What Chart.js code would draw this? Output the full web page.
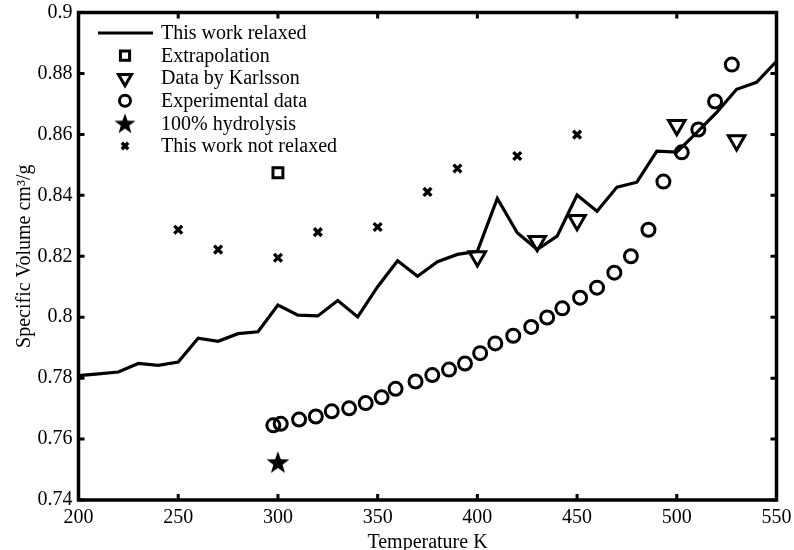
<!DOCTYPE html>
<html>
<head>
<meta charset="utf-8">
<title>Specific volume vs temperature</title>
<script src="https://cdn.jsdelivr.net/npm/chart.js@4.4.1/dist/chart.umd.min.js"></script>
<style>
  html, body { margin: 0; padding: 0; background: #fff; }
  #wrap { width: 794px; height: 550px; }
</style>
</head>
<body>
<div id="wrap"><canvas id="chart" width="794" height="550"></canvas></div>
<script>
// ── Data ──────────────────────────────────────────────────────────
const relaxedTemp = [200, 210, 220, 230, 240, 250, 260, 270, 280, 290, 300, 310,
  320, 330, 340, 350, 360, 370, 380, 390, 400, 410, 420, 430, 440, 450, 460, 470,
  480, 490, 500, 510, 520, 530, 540, 550];
const relaxedVolume = [0.7808, 0.7814, 0.7820, 0.7848, 0.7842, 0.7853, 0.7931, 0.7921,
  0.7946, 0.7952, 0.8040, 0.8007, 0.8004, 0.8055, 0.8001, 0.8100, 0.8185, 0.8134,
  0.8182, 0.8206, 0.8216, 0.8390, 0.8277, 0.8222, 0.8266, 0.8401, 0.8348, 0.8427,
  0.8443, 0.8545, 0.8542, 0.8606, 0.8672, 0.8748, 0.8771, 0.8840];

const extrapTemp = [300];
const extrapVolume = [0.8474];

const karlssonTemp = [400, 430, 450, 500, 530];
const karlssonVolume = [0.8199, 0.8249, 0.8318, 0.8630, 0.8580];

const expTemp = [297.7, 301.4, 310.6, 319, 327, 335.7, 344, 352, 359, 369, 377.4,
  385.8, 393.8, 401.4, 409, 418, 427, 435, 442.6, 451.5, 460, 468.7, 477, 485.8,
  493.3, 502.5, 510.8, 519.2, 527.6];
const expVolume = [0.7645, 0.7650, 0.7664, 0.7674, 0.7691, 0.7701, 0.7718, 0.7737,
  0.7765, 0.7789, 0.7810, 0.7828, 0.7848, 0.7882, 0.7914, 0.7939, 0.7968, 0.7999,
  0.8029, 0.8064, 0.8097, 0.8146, 0.8200, 0.8287, 0.8445, 0.8541, 0.8616, 0.8708,
  0.8829];

const hydrolysisTemp = [300];
const hydrolysisVolume = [0.7524];

const unrelaxedTemp = [250, 270, 300, 320, 350, 375, 390, 420, 450];
const unrelaxedVolume = [0.8287, 0.8222, 0.8195, 0.8279, 0.8296, 0.8411, 0.8488,
  0.8529, 0.8599];

const xTicks = { min: 200, max: 550, step: 50 };
const yTicks = { min: 0.74, max: 0.9, step: 0.02 };

// ── Style ─────────────────────────────────────────────────────────
const serif = "'Liberation Serif', 'Times New Roman', serif";
const ink = "#000";
const clear = "rgba(0,0,0,0)";

function pairs(xs, ys) {
  return xs.map((x, i) => ({ x, y: ys[i] }));
}

// filled five-point star used as an image point style
function makeStar(size) {
  const c = document.createElement("canvas");
  c.width = size; c.height = size;
  const g = c.getContext("2d");
  const cx = size / 2, cy = size / 2 + size * 0.04;
  const ro = size / 2, ri = ro * 0.4;
  g.beginPath();
  for (let i = 0; i < 10; i++) {
    const r = i % 2 ? ri : ro;
    const a = -Math.PI / 2 + i * Math.PI / 5;
    g.lineTo(cx + r * Math.cos(a), cy + r * Math.sin(a));
  }
  g.closePath();
  g.fillStyle = ink;
  g.fill();
  return c;
}
const starBig = makeStar(24);
const starSmall = makeStar(22);

// ── Frame with inward ticks on all four sides ─────────────────────
const framePlugin = {
  id: "frame",
  afterDatasetsDraw(chart) {
    const { ctx, chartArea: a, scales: { x, y } } = chart;
    const len = 6;
    ctx.save();
    ctx.strokeStyle = ink;
    ctx.lineWidth = 3;
    ctx.lineCap = "butt";
    ctx.beginPath();
    x.ticks.forEach(t => {
      const px = x.getPixelForValue(t.value);
      ctx.moveTo(px, a.bottom); ctx.lineTo(px, a.bottom - len);
      ctx.moveTo(px, a.top); ctx.lineTo(px, a.top + len);
    });
    y.ticks.forEach(t => {
      const py = y.getPixelForValue(t.value);
      ctx.moveTo(a.left, py); ctx.lineTo(a.left + len, py);
      ctx.moveTo(a.right, py); ctx.lineTo(a.right - len, py);
    });
    ctx.stroke();
    ctx.lineWidth = 3.5;
    ctx.strokeRect(a.left, a.top, a.right - a.left, a.bottom - a.top);
    ctx.restore();
  }
};

// ── Legend inside the plot, top left, no box ──────────────────────
const legendPlugin = {
  id: "insideLegend",
  afterDraw(chart) {
    const { ctx } = chart;
    const rows = [
      { ds: 0, line: true },
      { ds: 1, radius: 6.5 },
      { ds: 2, radius: 7.5 },
      { ds: 3, radius: 5.5 },
      { ds: 4, image: starSmall },
      { ds: 5, radius: 4.5 }
    ];
    const x0 = 98, x1 = 153, xm = 125, xt = 161, top = 33, gap = 22.6;
    ctx.save();
    ctx.font = "20px " + serif;
    ctx.textBaseline = "middle";
    ctx.fillStyle = ink;
    rows.forEach((r, i) => {
      const ds = chart.data.datasets[r.ds];
      const yy = top + i * gap;
      ctx.strokeStyle = ink;
      if (r.line) {
        ctx.lineWidth = ds.borderWidth;
        ctx.beginPath(); ctx.moveTo(x0, yy); ctx.lineTo(x1, yy); ctx.stroke();
      } else {
        ctx.lineWidth = ds.pointBorderWidth;
        ctx.fillStyle = clear;
        Chart.helpers.drawPoint(ctx, {
          pointStyle: r.image || ds.pointStyle,
          rotation: ds.pointRotation || 0,
          radius: r.radius,
          borderWidth: ds.pointBorderWidth
        }, xm, yy);
      }
      ctx.fillStyle = ink;
      ctx.fillText(ds.label, xt, yy + 1);
    });
    ctx.restore();
  }
};

// ── Chart ─────────────────────────────────────────────────────────
const tickFont = { family: serif, size: 20 };
const titleFont = { family: serif, size: 20, lineHeight: 1 };

new Chart(document.getElementById("chart"), {
  type: "scatter",
  data: {
    datasets: [
      {
        label: "This work relaxed",
        data: pairs(relaxedTemp, relaxedVolume),
        showLine: true,
        borderColor: ink,
        borderWidth: 3.2,
        pointRadius: 0,
        tension: 0,
        clip: false
      },
      {
        label: "Extrapolation",
        data: pairs(extrapTemp, extrapVolume),
        pointStyle: "rect",
        pointRadius: 7,
        pointBorderWidth: 3,
        pointBorderColor: ink,
        pointBackgroundColor: clear
      },
      {
        label: "Data by Karlsson",
        data: pairs(karlssonTemp, karlssonVolume),
        pointStyle: "triangle",
        pointRotation: 180,
        pointRadius: 9.5,
        pointBorderWidth: 3,
        pointBorderColor: ink,
        pointBackgroundColor: clear
      },
      {
        label: "Experimental data",
        data: pairs(expTemp, expVolume),
        pointStyle: "circle",
        pointRadius: 6.5,
        pointBorderWidth: 3,
        pointBorderColor: ink,
        pointBackgroundColor: clear
      },
      {
        label: "100% hydrolysis",
        data: pairs(hydrolysisTemp, hydrolysisVolume),
        pointStyle: starBig,
        pointRadius: 11,
        pointBorderWidth: 0
      },
      {
        label: "This work not relaxed",
        data: pairs(unrelaxedTemp, unrelaxedVolume),
        pointStyle: "crossRot",
        pointRadius: 5.5,
        pointBorderWidth: 3.4,
        pointBorderColor: ink,
        pointBackgroundColor: ink
      }
    ]
  },
  options: {
    responsive: false,
    animation: false,
    events: [],
    layout: { padding: { top: 10, right: 17.5, bottom: 0, left: 0 } },
    plugins: {
      legend: { display: false },
      tooltip: { enabled: false }
    },
    scales: {
      x: {
        type: "linear",
        min: xTicks.min,
        max: xTicks.max,
        afterFit: s => { s.height = 50; s.paddingLeft = 0; s.paddingRight = 0; },
        grid: { display: false, drawTicks: false },
        border: { display: false },
        ticks: { stepSize: xTicks.step, padding: 6, color: ink, font: tickFont, maxRotation: 0 },
        title: {
          display: true,
          text: "Temperature K",
          color: ink,
          font: titleFont,
          padding: { top: 0, bottom: -2.5 }
        }
      },
      y: {
        type: "linear",
        min: yTicks.min,
        max: yTicks.max,
        afterFit: s => { s.width = 78.5; s.paddingTop = 0; s.paddingBottom = 0; },
        grid: { display: false, drawTicks: false },
        border: { display: false },
        ticks: {
          stepSize: yTicks.step,
          padding: 6,
          color: ink,
          font: tickFont,
          callback: v => String(+v.toFixed(2))
        },
        title: {
          display: true,
          text: "Specific Volume cm³/g",
          color: ink,
          font: titleFont,
          padding: { top: 15, bottom: 0 }
        }
      }
    }
  },
  plugins: [framePlugin, legendPlugin]
});
</script>
</body>
</html>
